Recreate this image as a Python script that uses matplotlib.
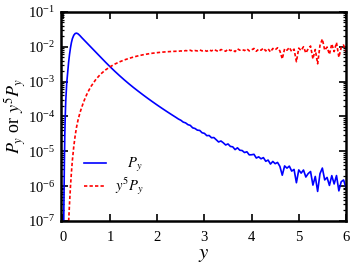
import numpy as np
import matplotlib
matplotlib.use("Agg")
import matplotlib.pyplot as plt
from matplotlib.ticker import LogLocator, FixedLocator, NullFormatter

plt.rcParams['font.family'] = ['Liberation Serif', 'DejaVu Serif']
plt.rcParams['mathtext.fontset'] = 'stix'

# y values (grid of the distribution)
y = np.array([
    0.01, 0.02, 0.03, 0.04, 0.05, 0.06, 0.08, 0.10, 0.12, 0.14, 0.16, 0.18,
    0.20, 0.23, 0.26, 0.29, 0.32, 0.36, 0.40, 0.45, 0.50, 0.55, 0.60, 0.70,
    0.80, 0.90, 1.00, 1.10, 1.20, 1.30, 1.40, 1.50, 1.60, 1.70, 1.80, 1.90,
    2.00, 2.10, 2.20, 2.30, 2.40,
    2.45, 2.50, 2.55, 2.60, 2.65, 2.70, 2.75, 2.80, 2.85, 2.90, 2.95, 3.00,
    3.05, 3.10, 3.15, 3.20, 3.25, 3.30, 3.35, 3.40, 3.45, 3.50, 3.55, 3.60,
    3.65, 3.70, 3.75, 3.80, 3.85, 3.90, 3.95, 4.00, 4.05, 4.10, 4.15, 4.20,
    4.25, 4.30, 4.35, 4.40, 4.45, 4.50, 4.55, 4.60, 4.65, 4.70, 4.75, 4.80,
    4.85, 4.90, 4.95, 5.00, 5.05, 5.10, 5.15, 5.20, 5.25, 5.30, 5.35, 5.40,
    5.45, 5.50, 5.55, 5.60, 5.65, 5.70, 5.75, 5.80, 5.85, 5.90, 5.95, 6.00])

# log10(P_y)
log_Py = np.array([
    -8.5, -6.6, -5.4, -4.5, -3.95, -3.55, -3.05, -2.75, -2.45, -2.22, -2.03, -1.88,
    -1.77, -1.67, -1.62, -1.61, -1.63, -1.68, -1.74, -1.81, -1.88, -1.95, -2.02, -2.16,
    -2.30, -2.44, -2.575, -2.705, -2.83, -2.95, -3.065, -3.175, -3.28, -3.383, -3.483, -3.58,
    -3.675, -3.767, -3.857, -3.945, -4.031,
    -4.076, -4.110, -4.163, -4.185, -4.236, -4.257, -4.327, -4.346, -4.394, -4.402, -4.469, -4.486,
    -4.552, -4.547, -4.612, -4.606, -4.669, -4.733, -4.705, -4.757, -4.819, -4.790, -4.861, -4.872,
    -4.952, -4.901, -4.970, -4.979, -5.037, -5.015, -5.103, -5.100, -5.087, -5.194, -5.160, -5.216,
    -5.182, -5.287, -5.253, -5.367, -5.292, -5.356, -5.320, -5.434, -5.687, -5.421, -5.484, -5.426,
    -5.569, -5.521, -5.903, -5.535, -5.627, -5.538, -5.739, -5.640, -5.581, -5.971, -5.722, -6.152,
    -5.642, -5.482, -5.822, -5.751, -5.980, -5.699, -5.938, -5.697, -6.136, -5.874, -5.823, -6.041])

Py = 10.0 ** log_Py
y5Py = y ** 5 * Py

fig = plt.figure(figsize=(3.57, 2.64), dpi=100)
ax = fig.add_axes([0.171, 0.163, 0.798, 0.792])

ax.plot(y, Py, color='#0000ff', lw=1.2, label=r'$\quad\, P_y$')
ax.plot(y, y5Py, color='#ff0000', lw=1.2, ls=(0, (2.0, 1.3)), label=r'$y^5P_y$')

ax.set_yscale('log')
ax.set_xlim(-0.04, 6.0)
ax.set_ylim(1e-7, 1e-1)

ax.xaxis.set_major_locator(FixedLocator([0, 1, 2, 3, 4, 5, 6]))
ax.set_xticklabels(['0', '1', '2', '3', '4', '5', '6'])
ax.yaxis.set_major_locator(LogLocator(base=10, numticks=20))
ax.yaxis.set_minor_locator(LogLocator(base=10, subs=np.arange(2, 10), numticks=20))
ax.yaxis.set_minor_formatter(NullFormatter())

ax.tick_params(which='both', direction='in', top=True, right=True, labelsize=10.5)
ax.tick_params(which='major', length=5, width=1.2)
ax.tick_params(which='minor', length=2.5, width=0.9)
ax.tick_params(axis='x', pad=7)
ax.tick_params(axis='y', pad=4)
for s in ax.spines.values():
    s.set_linewidth(1.8)

ax.set_xlabel(r'$y$', fontsize=15, labelpad=1)
ax.set_ylabel(r'$P_y$ or $y^5P_y$', fontsize=13, labelpad=0)

leg = ax.legend(loc='lower left', bbox_to_anchor=(0.06, 0.085), frameon=False,
                fontsize=10.5, handlelength=1.5, handletextpad=0.6,
                labelspacing=0.12, borderaxespad=0)

fig.savefig('out.png', dpi=100)
